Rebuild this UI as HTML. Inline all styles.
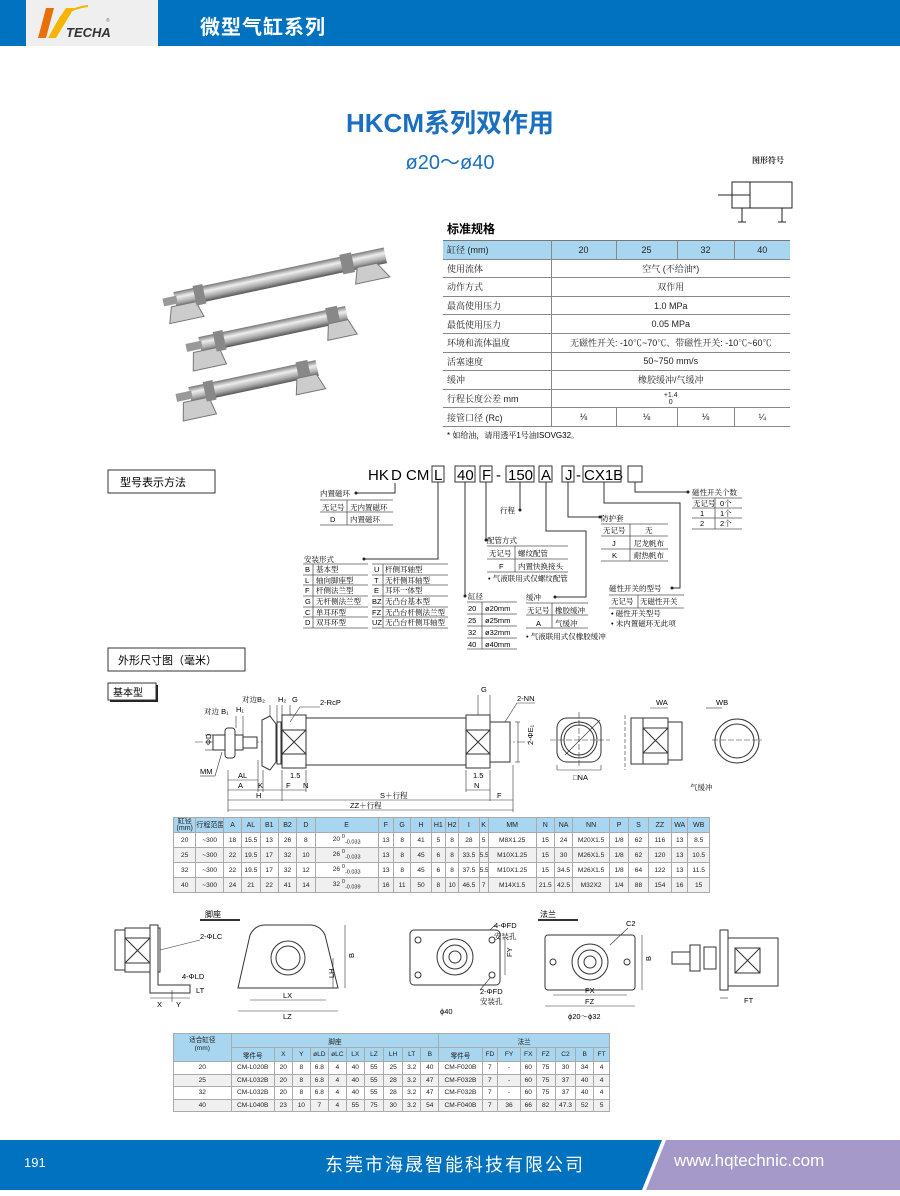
<!DOCTYPE html>
<html><head><meta charset="utf-8">
<style>
*{margin:0;padding:0;box-sizing:border-box}
body{width:900px;height:1196px;position:relative;background:#fff;font-family:"Liberation Sans","Noto Sans CJK SC",sans-serif;color:#222;overflow:hidden}
.abs{position:absolute}
table{border-collapse:collapse;table-layout:fixed}
.spec{left:443px;top:240px;width:347px;font-size:9px}
.spec td{height:18.6px;border-bottom:1.5px solid #888;text-align:center;font-family:"Liberation Sans","Noto Serif CJK SC",sans-serif}
.spec td:first-child{text-align:left;padding-left:4px;border-right:1px solid #888}
.spec tr.h td{background:#a8d6f0;border-top:1.5px solid #777}
.spec tr.h td+td{border-left:1px solid #888}
.spec td.c{border-left:1px solid #888}
.dim{left:173px;top:817px;width:537px;font-size:6.6px}
.dim td{border:1px solid #aaa;text-align:center;height:15px;white-space:nowrap;overflow:hidden}
.dim tr.h td{background:#a8d6f0;font-size:7px}
.dim tr.g td{background:#f0f0f0}
.mt{left:173px;top:1033px;width:437px;font-size:6.6px}
.mt td{border:1px solid #aaa;text-align:center;height:12.5px;white-space:nowrap;overflow:hidden}
.mt tr.h td,.mt td.h{background:#a8d6f0;height:14px}
.mt tr.g td{background:#f0f0f0}
.lbl{font-family:"Liberation Sans","Noto Serif CJK SC",serif}
</style></head><body>
<!-- header -->
<div class="abs" style="left:0;top:0;width:900px;height:46px;background:#0072c0"></div>
<div class="abs" style="left:26px;top:0;width:132px;height:46px;background:#efefef"></div>
<svg class="abs" style="left:26px;top:0" width="132" height="46">
<polygon points="20,8 28,8 20,38 12,38" fill="#e8700a"/>
<polygon points="32,20 40,8 48,8 30,38 22,38" fill="#f5b400"/>
<path d="M34,18 Q45,8 62,6" stroke="#f5b400" stroke-width="2" fill="none"/>
<text x="40" y="37" font-size="13" font-style="italic" font-weight="bold" fill="#333" font-family="Liberation Sans">TECHA</text>
<text x="80" y="22" font-size="5" fill="#777">®</text>
</svg>
<div class="abs" style="left:200px;top:11px;color:#fff;font-size:20px;font-weight:bold;font-family:'Noto Sans CJK SC',sans-serif;letter-spacing:1px">微型气缸系列</div>

<!-- titles -->
<div class="abs" style="left:0;width:900px;top:103px;text-align:center;color:#1a6fc0;font-size:26px;font-weight:bold;font-family:'Liberation Sans','Noto Sans CJK SC',sans-serif">HKCM系列双作用</div>
<div class="abs" style="left:0;width:900px;top:146px;text-align:center;color:#1a6fc0;font-size:20px;font-family:'Liberation Sans','Noto Sans CJK SC',sans-serif">ø20～ø40</div>
<div class="abs lbl" style="left:752px;top:155px;font-size:8px;font-weight:bold">图形符号</div>

<svg class="abs" style="left:0;top:0" width="900" height="1196" font-family="Liberation Sans, Noto Serif CJK SC, serif">
<!-- symbol -->
<g stroke="#222" stroke-width="1" fill="none">
<rect x="732" y="182" width="60" height="26"/>
<line x1="750" y1="182" x2="750" y2="208"/>
<line x1="750" y1="195" x2="718" y2="195"/>
<line x1="742" y1="208" x2="742" y2="222"/><line x1="782" y1="208" x2="782" y2="222"/>
<line x1="738" y1="222" x2="746" y2="222"/><line x1="778" y1="222" x2="786" y2="222"/>
</g>
<!-- photo cylinders -->
<defs><linearGradient id="cyl" x1="0" y1="0" x2="0" y2="1"><stop offset="0" stop-color="#777"/><stop offset=".35" stop-color="#eee"/><stop offset=".7" stop-color="#aaa"/><stop offset="1" stop-color="#555"/></linearGradient></defs>
<g transform="translate(175,300) rotate(-12)"><rect x="0" y="-8" width="215" height="16" fill="url(#cyl)"/><rect x="-12" y="-4" width="14" height="8" fill="#999"/><polygon points="-5,6 20,6 25,22 -10,22" fill="#ccc" stroke="#777"/><polygon points="185,6 205,6 215,22 180,22" fill="#ccc" stroke="#777"/><rect x="20" y="-10" width="10" height="20" fill="#888"/><rect x="170" y="-10" width="12" height="20" fill="#888"/></g>
<g transform="translate(200,345) rotate(-12)"><rect x="0" y="-8" width="150" height="16" fill="url(#cyl)"/><rect x="-14" y="-4" width="16" height="8" fill="#999"/><polygon points="-8,6 18,6 22,24 -12,24" fill="#ccc" stroke="#777"/><rect x="15" y="-10" width="10" height="20" fill="#888"/><rect x="130" y="-10" width="12" height="20" fill="#888"/><polygon points="130,6 150,6 156,22 126,22" fill="#ccc" stroke="#777"/></g>
<g transform="translate(190,395) rotate(-12)"><rect x="0" y="-8" width="130" height="16" fill="url(#cyl)"/><rect x="-14" y="-4" width="16" height="8" fill="#999"/><polygon points="-8,6 18,6 22,24 -12,24" fill="#ccc" stroke="#777"/><rect x="15" y="-10" width="10" height="20" fill="#888"/><rect x="110" y="-10" width="12" height="20" fill="#888"/><polygon points="108,6 128,6 134,22 104,22" fill="#ccc" stroke="#777"/></g>

<text x="447" y="233" font-size="12" font-weight="bold" font-family="Noto Sans CJK SC,sans-serif">标准规格</text>
<text x="447" y="438" font-size="8">* 如给油，请用透平1号油ISOVG32。</text>

<!-- section boxes -->
<rect x="108" y="470" width="107" height="23" fill="#fff" stroke="#333"/>
<text x="120" y="486" font-size="11" font-family="Noto Sans CJK SC,sans-serif">型号表示方法</text>
<rect x="108" y="648" width="137" height="23" fill="#fff" stroke="#333"/>
<text x="118" y="664" font-size="11" font-family="Noto Sans CJK SC,sans-serif">外形尺寸图（毫米）</text>
<rect x="110" y="685" width="48" height="17" fill="#222"/><rect x="108" y="683" width="48" height="17" fill="#fff" stroke="#333"/>
<text x="113" y="696" font-size="10" font-family="Noto Sans CJK SC,sans-serif">基本型</text>

<!-- model code -->
<g font-size="15" font-family="Liberation Sans">
<text x="368" y="480">HK</text><text x="391" y="480">D</text><text x="406" y="480">CM</text>
<text x="434" y="480">L</text><text x="457" y="480">40</text><text x="482" y="480">F</text><text x="496" y="480">-</text>
<text x="508" y="480">150</text><text x="541" y="480">A</text><text x="565" y="480">J</text><text x="576" y="480">-</text><text x="584" y="480">CX1B</text>
</g>
<g fill="none" stroke="#333" stroke-width="1">
<rect x="432" y="466" width="12" height="16"/><rect x="455" y="466" width="20" height="16"/><rect x="480" y="466" width="12" height="16"/>
<rect x="506" y="466" width="28" height="16"/><rect x="539" y="466" width="13" height="16"/><rect x="562" y="466" width="12" height="16"/>
<rect x="583" y="466" width="38" height="16"/><rect x="628" y="466" width="14" height="16"/>
<polyline points="395,483 395,493 357,493"/>
<polyline points="438,482 438,559 365,559"/>
<polyline points="465,482 465,596"/>
<polyline points="486,482 486,540"/>
<polyline points="520,482 520,510"/>
<polyline points="546,482 546,531 586,531 586,597 555,597"/>
<polyline points="568,482 568,517 600,517"/>
<polyline points="604,482 604,503 680,503 680,588 672,588"/>
<polyline points="635,482 635,492 688,492"/>
</g>
<g fill="#222"><circle cx="356" cy="493" r="1.5"/><circle cx="364" cy="559" r="1.5"/><circle cx="465" cy="596" r="1.5"/><circle cx="486" cy="540" r="1.5"/><circle cx="520" cy="510" r="1.5"/><circle cx="555" cy="597" r="1.5"/><circle cx="600" cy="517" r="1.5"/><circle cx="672" cy="588" r="1.5"/><circle cx="688" cy="492" r="1.5"/></g>
<g font-size="7.5">
<text x="320" y="496">内置磁环</text>
<text x="322" y="510">无记号</text><text x="350" y="510">无内置磁环</text>
<text x="330" y="522">D</text><text x="350" y="522">内置磁环</text>
<text x="500" y="513">行程</text>
<text x="601" y="521">防护套</text>
<text x="603" y="533">无记号</text><text x="645" y="533">无</text>
<text x="612" y="546">J</text><text x="634" y="546">尼龙帆布</text>
<text x="612" y="558">K</text><text x="634" y="558">耐热帆布</text>
<text x="692" y="495">磁性开关个数</text>
<text x="693" y="506">无记号</text><text x="720" y="506">0个</text>
<text x="700" y="516">1</text><text x="720" y="516">1个</text>
<text x="700" y="526">2</text><text x="720" y="526">2个</text>
<text x="487" y="543">配管方式</text>
<text x="489" y="556">无记号</text><text x="518" y="556">螺纹配管</text>
<text x="499" y="569">F</text><text x="518" y="569">内置快换接头</text>
<text x="488" y="581">• 气液联用式仅螺纹配管</text>
<text x="304" y="562">安装形式</text>
<text x="305" y="572">B</text><text x="316" y="572">基本型</text><text x="374" y="572">U</text><text x="385" y="572">杆侧耳轴型</text>
<text x="305" y="583">L</text><text x="316" y="583">轴向脚座型</text><text x="374" y="583">T</text><text x="385" y="583">无杆侧耳轴型</text>
<text x="305" y="593">F</text><text x="316" y="593">杆侧法兰型</text><text x="374" y="593">E</text><text x="385" y="593">耳环一体型</text>
<text x="305" y="604">G</text><text x="316" y="604">无杆侧法兰型</text><text x="372" y="604">BZ</text><text x="385" y="604">无凸台基本型</text>
<text x="305" y="615">C</text><text x="316" y="615">单耳环型</text><text x="372" y="615">FZ</text><text x="385" y="615">无凸台杆侧法兰型</text>
<text x="305" y="625">D</text><text x="316" y="625">双耳环型</text><text x="372" y="625">UZ</text><text x="385" y="625">无凸台杆侧耳轴型</text>
<text x="468" y="599">缸径</text>
<text x="468" y="611">20</text><text x="485" y="611">ø20mm</text>
<text x="468" y="623">25</text><text x="485" y="623">ø25mm</text>
<text x="468" y="635">32</text><text x="485" y="635">ø32mm</text>
<text x="468" y="647">40</text><text x="485" y="647">ø40mm</text>
<text x="526" y="600">缓冲</text>
<text x="527" y="613">无记号</text><text x="555" y="613">橡胶缓冲</text>
<text x="536" y="626">A</text><text x="555" y="626">气缓冲</text>
<text x="526" y="639">• 气液联用式仅橡胶缓冲</text>
<text x="609" y="591">磁性开关的型号</text>
<text x="611" y="604">无记号</text><text x="640" y="604">无磁性开关</text>
<text x="611" y="616">• 磁性开关型号</text>
<text x="611" y="626">• 未内置磁环无此项</text>
</g>
<g stroke="#555" stroke-width=".8" fill="none">
<line x1="320" y1="500" x2="393" y2="500"/><line x1="320" y1="512" x2="393" y2="512"/><line x1="320" y1="525" x2="393" y2="525"/><line x1="347" y1="500" x2="347" y2="525"/>
<line x1="601" y1="524" x2="668" y2="524"/><line x1="601" y1="536" x2="668" y2="536"/><line x1="601" y1="549" x2="668" y2="549"/><line x1="601" y1="561" x2="668" y2="561"/><line x1="630" y1="524" x2="630" y2="561"/>
<line x1="692" y1="498" x2="742" y2="498"/><line x1="692" y1="508" x2="742" y2="508"/><line x1="692" y1="518" x2="742" y2="518"/><line x1="692" y1="529" x2="742" y2="529"/><line x1="715" y1="498" x2="715" y2="529"/>
<line x1="487" y1="546" x2="568" y2="546"/><line x1="487" y1="559" x2="568" y2="559"/><line x1="487" y1="572" x2="568" y2="572"/><line x1="515" y1="546" x2="515" y2="572"/>
<line x1="303" y1="564" x2="368" y2="564"/><line x1="372" y1="564" x2="448" y2="564"/>
<line x1="303" y1="575" x2="368" y2="575"/><line x1="372" y1="575" x2="448" y2="575"/>
<line x1="303" y1="585" x2="368" y2="585"/><line x1="372" y1="585" x2="448" y2="585"/>
<line x1="303" y1="596" x2="368" y2="596"/><line x1="372" y1="596" x2="448" y2="596"/>
<line x1="303" y1="607" x2="368" y2="607"/><line x1="372" y1="607" x2="448" y2="607"/>
<line x1="303" y1="617" x2="368" y2="617"/><line x1="372" y1="617" x2="448" y2="617"/>
<line x1="303" y1="628" x2="368" y2="628"/><line x1="372" y1="628" x2="448" y2="628"/>
<line x1="313" y1="564" x2="313" y2="628"/><line x1="383" y1="564" x2="383" y2="628"/>
<line x1="467" y1="602" x2="517" y2="602"/><line x1="467" y1="614" x2="517" y2="614"/><line x1="467" y1="626" x2="517" y2="626"/><line x1="467" y1="638" x2="517" y2="638"/><line x1="467" y1="649" x2="517" y2="649"/><line x1="482" y1="602" x2="482" y2="649"/>
<line x1="526" y1="603" x2="588" y2="603"/><line x1="526" y1="615" x2="588" y2="615"/><line x1="526" y1="628" x2="588" y2="628"/><line x1="552" y1="603" x2="552" y2="628"/>
<line x1="609" y1="595" x2="684" y2="595"/><line x1="609" y1="608" x2="684" y2="608"/><line x1="638" y1="595" x2="638" y2="608"/>
</g>

<!-- basic type drawing -->
<g stroke="#333" stroke-width="1" fill="#fff">
<line x1="195" y1="742" x2="530" y2="742" stroke-dasharray="8,2,2,2" stroke-width=".6"/>
<rect x="213" y="735" width="30" height="15"/>
<rect x="225" y="728" width="10" height="30" rx="3"/>
<rect x="243" y="737" width="14" height="11"/>
<path d="M262,720 L270,716 L276,724 L276,762 L270,770 L262,766 Z"/>
<rect x="277" y="722" width="4" height="42"/>
<rect x="282" y="715" width="24" height="53"/>
<line x1="282" y1="730" x2="306" y2="754"/><line x1="306" y1="730" x2="282" y2="754"/>
<rect x="282" y="730" width="24" height="24" fill="none"/>
<rect x="306" y="718" width="160" height="47"/>
<rect x="466" y="715" width="24" height="53"/>
<rect x="466" y="730" width="24" height="24" fill="none"/>
<line x1="466" y1="730" x2="490" y2="754"/><line x1="490" y1="730" x2="466" y2="754"/>
<rect x="490" y="722" width="20" height="40"/>
</g>
<g stroke="#333" stroke-width=".6" fill="none">
<line x1="228" y1="770" x2="228" y2="812"/><line x1="258" y1="760" x2="258" y2="792"/><line x1="263" y1="770" x2="263" y2="792"/>
<line x1="282" y1="770" x2="282" y2="801"/><line x1="306" y1="770" x2="306" y2="792"/><line x1="490" y1="770" x2="490" y2="801"/><line x1="513" y1="765" x2="513" y2="812"/><line x1="466" y1="770" x2="466" y2="792"/>
<line x1="228" y1="780" x2="258" y2="780"/>
<line x1="228" y1="790" x2="258" y2="790"/><line x1="258" y1="790" x2="263" y2="790"/><line x1="263" y1="790" x2="282" y2="790"/><line x1="282" y1="790" x2="306" y2="790"/><line x1="466" y1="790" x2="490" y2="790"/>
<line x1="228" y1="800" x2="282" y2="800"/><line x1="282" y1="800" x2="490" y2="800"/><line x1="490" y1="800" x2="513" y2="800"/>
<line x1="228" y1="810" x2="513" y2="810"/>
<line x1="236" y1="716" x2="236" y2="728"/><line x1="243" y1="716" x2="243" y2="735"/>
<line x1="270" y1="705" x2="270" y2="716"/><line x1="277" y1="705" x2="277" y2="722"/><line x1="282" y1="705" x2="282" y2="715"/><line x1="290" y1="705" x2="290" y2="715"/>
<line x1="478" y1="695" x2="478" y2="715"/><line x1="490" y1="695" x2="490" y2="715"/>
<line x1="300" y1="707" x2="320" y2="707"/><line x1="300" y1="707" x2="290" y2="722"/>
<line x1="517" y1="703" x2="535" y2="703"/><line x1="517" y1="703" x2="505" y2="722"/>
<line x1="515" y1="722" x2="520" y2="722"/><line x1="515" y1="762" x2="520" y2="762"/><line x1="518" y1="722" x2="518" y2="762"/>
<line x1="200" y1="776" x2="215" y2="776"/><line x1="215" y1="776" x2="222" y2="752"/>
<line x1="205" y1="735" x2="213" y2="735"/><line x1="205" y1="750" x2="213" y2="750"/>
</g>
<g font-size="7.5">
<text x="204" y="714">对边 B₁</text><text x="236" y="712">H₁</text><text x="242" y="702">对边B₂</text><text x="278" y="702">H₂</text><text x="292" y="702">G</text><text x="320" y="705">2-RcP</text>
<text x="481" y="692">G</text><text x="517" y="701">2-NN</text>
<text x="208" y="748" transform="rotate(-90 208 745)">ΦD</text>
<text x="526" y="752" transform="rotate(-90 526 745)">2-ΦE₁</text>
<text x="200" y="774">MM</text><text x="238" y="778">AL</text><text x="238" y="788">A</text><text x="258" y="788">K</text><text x="286" y="788">F</text><text x="290" y="778">1.5</text><text x="303" y="788">N</text>
<text x="473" y="778">1.5</text><text x="474" y="788">N</text>
<text x="256" y="798">H</text><text x="380" y="798">S＋行程</text><text x="497" y="798">F</text>
<text x="350" y="808">ZZ＋行程</text>
<text x="573" y="780">□NA</text><text x="656" y="705">WA</text><text x="716" y="705">WB</text><text x="690" y="790">气缓冲</text>
</g>
<!-- end views -->
<g stroke="#333" stroke-width="1" fill="#fff">
<rect x="557" y="718" width="44" height="44" rx="10"/>
<circle cx="579" cy="740" r="18"/><circle cx="579" cy="740" r="15"/>
<rect x="631" y="718" width="12" height="46"/>
<rect x="643" y="718" width="25" height="46"/>
<rect x="643" y="728" width="25" height="25" fill="none"/>
<line x1="643" y1="728" x2="668" y2="753"/><line x1="668" y1="728" x2="643" y2="753"/>
<rect x="668" y="722" width="14" height="38"/>
<circle cx="737" cy="741" r="22"/><circle cx="737" cy="741" r="17"/>
</g>
<g stroke="#333" stroke-width=".6" fill="none">
<line x1="550" y1="740" x2="610" y2="740" stroke-dasharray="6,2"/><line x1="579" y1="712" x2="579" y2="768" stroke-dasharray="6,2"/>
<line x1="565" y1="755" x2="600" y2="720"/>
<line x1="557" y1="770" x2="557" y2="765"/><line x1="601" y1="770" x2="601" y2="765"/><line x1="557" y1="770" x2="601" y2="770"/>
<line x1="625" y1="715" x2="625" y2="770" stroke-dasharray="4,2"/>
<line x1="650" y1="708" x2="668" y2="708"/>
<line x1="706" y1="708" x2="722" y2="708"/><line x1="712" y1="740" x2="762" y2="740" stroke-dasharray="6,2"/>
</g>

<!-- foot / flange drawings -->
<g font-size="8"><text x="205" y="917" font-family="Noto Sans CJK SC,sans-serif">脚座</text><text x="540" y="917" font-family="Noto Sans CJK SC,sans-serif">法兰</text></g>
<line x1="200" y1="920" x2="240" y2="920" stroke="#333" stroke-width="2"/><line x1="538" y1="920" x2="578" y2="920" stroke="#333" stroke-width="2"/>
<g stroke="#333" stroke-width="1" fill="#fff">
<rect x="115" y="930" width="10" height="40"/><rect x="125" y="928" width="35" height="44"/>
<rect x="125" y="938" width="25" height="25" fill="none"/>
<line x1="125" y1="938" x2="150" y2="963"/><line x1="150" y1="938" x2="125" y2="963"/>
<path d="M150,925 L158,925 L158,985 L190,985 L190,993 L150,993 Z"/>
<path d="M238,988 L250,935 Q255,925 265,925 L310,925 Q320,925 325,935 L338,988 Z"/>
<circle cx="288" cy="958" r="17"/><circle cx="288" cy="958" r="12"/>
<rect x="410" y="930" width="90" height="55" rx="4"/>
<circle cx="455" cy="957" r="18"/><circle cx="455" cy="957" r="12"/><circle cx="455" cy="957" r="6"/>
<circle cx="418" cy="940" r="3"/><circle cx="492" cy="940" r="3"/><circle cx="418" cy="975" r="3"/><circle cx="492" cy="975" r="3"/>
<rect x="545" y="935" width="90" height="55" rx="3"/>
<circle cx="590" cy="962" r="18"/><circle cx="590" cy="962" r="12"/><circle cx="590" cy="962" r="6"/>
<circle cx="553" cy="962" r="3"/><circle cx="627" cy="962" r="3"/>
<rect x="672" y="952" width="22" height="12"/><rect x="690" y="945" width="10" height="26"/><rect x="704" y="947" width="12" height="22"/>
<rect x="720" y="930" width="8" height="60"/><rect x="728" y="938" width="50" height="48"/>
<rect x="735" y="948" width="25" height="25" fill="none"/>
<line x1="735" y1="948" x2="760" y2="973"/><line x1="760" y1="948" x2="735" y2="973"/>
</g>
<g stroke="#333" stroke-width=".6" fill="none">
<line x1="150" y1="998" x2="190" y2="998"/><line x1="172" y1="990" x2="172" y2="1002"/>
<line x1="250" y1="1000" x2="326" y2="1000"/><line x1="238" y1="1011" x2="338" y2="1011"/>
<line x1="333" y1="958" x2="333" y2="988"/><line x1="345" y1="925" x2="345" y2="988"/>
<line x1="418" y1="1000" x2="492" y2="1000" stroke="none"/>
<line x1="505" y1="940" x2="505" y2="975"/>
<line x1="553" y1="995" x2="627" y2="995"/><line x1="545" y1="1006" x2="635" y2="1006"/>
<line x1="642" y1="935" x2="642" y2="990"/>
<line x1="720" y1="998" x2="728" y2="998"/>
<line x1="490" y1="930" x2="495" y2="925"/><line x1="480" y1="990" x2="490" y2="978"/>
<line x1="610" y1="945" x2="628" y2="928"/>
<line x1="200" y1="940" x2="160" y2="950"/>
</g>
<g font-size="7.5">
<text x="200" y="939">2-ΦLC</text><text x="182" y="979">4-ΦLD</text><text x="157" y="1007">X</text><text x="176" y="1007">Y</text><text x="196" y="993">LT</text>
<text x="283" y="998">LX</text><text x="283" y="1019">LZ</text>
<text x="330" y="982" transform="rotate(-90 330 978)">LH</text><text x="350" y="962" transform="rotate(-90 350 958)">B</text>
<text x="494" y="928">4-ΦFD</text><text x="494" y="939">安装孔</text>
<text x="510" y="965" transform="rotate(-90 507 960)">FY</text>
<text x="480" y="994">2-ΦFD</text><text x="480" y="1004">安装孔</text>
<text x="440" y="1014">ϕ40</text>
<text x="626" y="926">C2</text><text x="648" y="966" transform="rotate(-90 647 962)">B</text>
<text x="585" y="993">FX</text><text x="585" y="1004">FZ</text><text x="568" y="1019">ϕ20～ϕ32</text>
<text x="744" y="1003">FT</text>
</g>

<!-- footer -->
<rect x="0" y="1140" width="900" height="50" fill="#0072c0"/>
<polygon points="662,1140 900,1140 900,1190 642,1190" fill="#fff"/>
<polygon points="666,1140 900,1140 900,1190 646,1190" fill="#a499c9"/>
</svg>

<div class="abs" style="left:24px;top:1155px;color:#fff;font-size:13px">191</div>
<div class="abs" style="left:325px;top:1151px;color:#fff;font-size:18px;font-family:'Noto Sans CJK SC',sans-serif;letter-spacing:2px">东莞市海晟智能科技有限公司</div>
<div class="abs" style="left:674px;top:1151px;color:#fff;font-size:17px">www.hqtechnic.com</div>

<table class="abs spec">
<colgroup><col style="width:108px"><col style="width:65px"><col style="width:61px"><col style="width:57px"><col style="width:56px"></colgroup>
<tr class="h"><td>缸径 (mm)</td><td>20</td><td>25</td><td>32</td><td>40</td></tr>
<tr><td>使用流体</td><td colspan="4">空气 (不给油*)</td></tr>
<tr><td>动作方式</td><td colspan="4">双作用</td></tr>
<tr><td>最高使用压力</td><td colspan="4">1.0 MPa</td></tr>
<tr><td>最低使用压力</td><td colspan="4">0.05 MPa</td></tr>
<tr><td>环境和流体温度</td><td colspan="4">无磁性开关: -10℃~70℃、带磁性开关: -10℃~60℃</td></tr>
<tr><td>活塞速度</td><td colspan="4">50~750 mm/s</td></tr>
<tr><td>缓冲</td><td colspan="4">橡胶缓冲/气缓冲</td></tr>
<tr><td>行程长度公差 mm</td><td colspan="4" style="font-size:7px;line-height:7px">+1.4<br>0</td></tr>
<tr><td>接管口径 (Rc)</td><td>⅛</td><td class="c">⅛</td><td class="c">⅛</td><td class="c">¼</td></tr>
</table>

<table class="abs dim">
<colgroup><col style="width:22px"><col style="width:27px"><col style="width:18px"><col style="width:18px"><col style="width:18px"><col style="width:18px"><col style="width:18px"><col style="width:62px"><col style="width:15px"><col style="width:17px"><col style="width:20px"><col style="width:14px"><col style="width:13px"><col style="width:20px"><col style="width:9px"><col style="width:47px"><col style="width:18px"><col style="width:18px"><col style="width:36px"><col style="width:19px"><col style="width:19px"><col style="width:23px"><col style="width:16px"><col style="width:21px"></colgroup>
<tr class="h"><td style="line-height:7px">缸径<br>(mm)</td><td>行程范围</td><td>A</td><td>AL</td><td>B1</td><td>B2</td><td>D</td><td>E</td><td>F</td><td>G</td><td>H</td><td>H1</td><td>H2</td><td>I</td><td>K</td><td>MM</td><td>N</td><td>NA</td><td>NN</td><td>P</td><td>S</td><td>ZZ</td><td>WA</td><td>WB</td></tr>
<tr><td>20</td><td>~300</td><td>18</td><td>15.5</td><td>13</td><td>26</td><td>8</td><td>20 <sup>0</sup><sub>-0.033</sub></td><td>13</td><td>8</td><td>41</td><td>5</td><td>8</td><td>28</td><td>5</td><td>M8X1.25</td><td>15</td><td>24</td><td>M20X1.5</td><td>1/8</td><td>62</td><td>116</td><td>13</td><td>8.5</td></tr>
<tr class="g"><td>25</td><td>~300</td><td>22</td><td>19.5</td><td>17</td><td>32</td><td>10</td><td>26 <sup>0</sup><sub>-0.033</sub></td><td>13</td><td>8</td><td>45</td><td>6</td><td>8</td><td>33.5</td><td>5.5</td><td>M10X1.25</td><td>15</td><td>30</td><td>M26X1.5</td><td>1/8</td><td>62</td><td>120</td><td>13</td><td>10.5</td></tr>
<tr><td>32</td><td>~300</td><td>22</td><td>19.5</td><td>17</td><td>32</td><td>12</td><td>26 <sup>0</sup><sub>-0.033</sub></td><td>13</td><td>8</td><td>45</td><td>6</td><td>8</td><td>37.5</td><td>5.5</td><td>M10X1.25</td><td>15</td><td>34.5</td><td>M26X1.5</td><td>1/8</td><td>64</td><td>122</td><td>13</td><td>11.5</td></tr>
<tr class="g"><td>40</td><td>~300</td><td>24</td><td>21</td><td>22</td><td>41</td><td>14</td><td>32 <sup>0</sup><sub>-0.039</sub></td><td>16</td><td>11</td><td>50</td><td>8</td><td>10</td><td>46.5</td><td>7</td><td>M14X1.5</td><td>21.5</td><td>42.5</td><td>M32X2</td><td>1/4</td><td>88</td><td>154</td><td>16</td><td>15</td></tr>
</table>

<table class="abs mt">
<colgroup><col style="width:48px"><col style="width:36px"><col style="width:15px"><col style="width:15px"><col style="width:15px"><col style="width:15px"><col style="width:15px"><col style="width:16px"><col style="width:16px"><col style="width:15px"><col style="width:15px"><col style="width:36px"><col style="width:13px"><col style="width:19px"><col style="width:13px"><col style="width:16px"><col style="width:17px"><col style="width:15px"><col style="width:13px"></colgroup>
<tr class="h"><td rowspan="2" style="line-height:8px;vertical-align:top;padding-top:3px">适合缸径<br>(mm)</td><td colspan="10">脚座</td><td colspan="8">法兰</td></tr>
<tr class="h"><td>零件号</td><td>X</td><td>Y</td><td>øLD</td><td>øLC</td><td>LX</td><td>LZ</td><td>LH</td><td>LT</td><td>B</td><td>零件号</td><td>FD</td><td>FY</td><td>FX</td><td>FZ</td><td>C2</td><td>B</td><td>FT</td></tr>
<tr><td>20</td><td>CM-L020B</td><td>20</td><td>8</td><td>6.8</td><td>4</td><td>40</td><td>55</td><td>25</td><td>3.2</td><td>40</td><td>CM-F020B</td><td>7</td><td>-</td><td>60</td><td>75</td><td>30</td><td>34</td><td>4</td></tr>
<tr class="g"><td>25</td><td>CM-L032B</td><td>20</td><td>8</td><td>6.8</td><td>4</td><td>40</td><td>55</td><td>28</td><td>3.2</td><td>47</td><td>CM-F032B</td><td>7</td><td>-</td><td>60</td><td>75</td><td>37</td><td>40</td><td>4</td></tr>
<tr><td>32</td><td>CM-L032B</td><td>20</td><td>8</td><td>6.8</td><td>4</td><td>40</td><td>55</td><td>28</td><td>3.2</td><td>47</td><td>CM-F032B</td><td>7</td><td>-</td><td>60</td><td>75</td><td>37</td><td>40</td><td>4</td></tr>
<tr class="g"><td>40</td><td>CM-L040B</td><td>23</td><td>10</td><td>7</td><td>4</td><td>55</td><td>75</td><td>30</td><td>3.2</td><td>54</td><td>CM-F040B</td><td>7</td><td>36</td><td>66</td><td>82</td><td>47.3</td><td>52</td><td>5</td></tr>
</table>
</body></html>
